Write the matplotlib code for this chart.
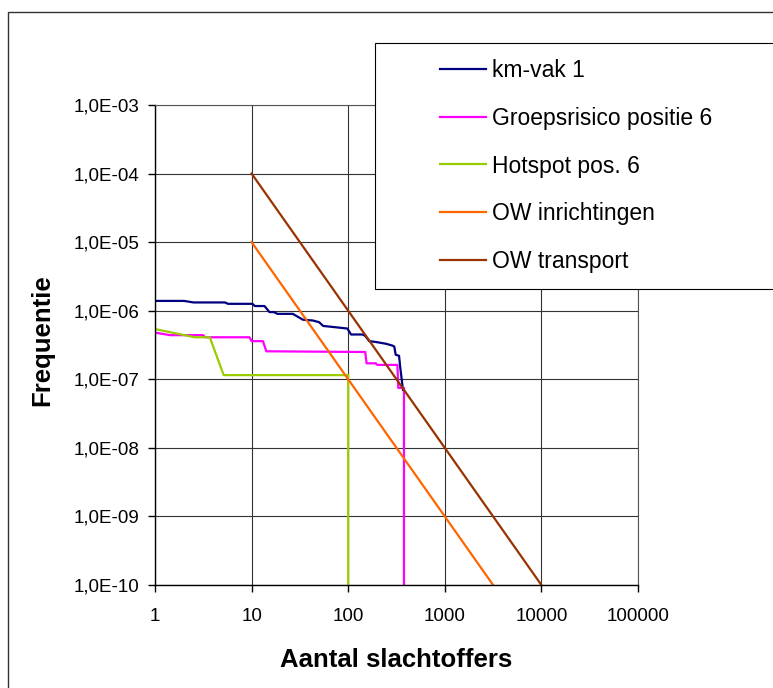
import matplotlib
matplotlib.use('Agg')
import matplotlib.pyplot as plt
from matplotlib.patches import Rectangle
from matplotlib.ticker import FuncFormatter, FixedLocator, NullLocator

plt.rcParams['font.family'] = ['Liberation Sans', 'DejaVu Sans']

# km-vak 1 (stepped curve)
km_x = [1, 2.0, 2.5, 5.3, 5.7, 10.2, 10.8, 13.6, 15.3, 17, 18.5, 26.7, 33.9, 43, 50, 55,
        98, 107, 141, 150, 165, 193, 245, 287, 300, 310, 336, 345, 369]
km_y = [1.39e-6, 1.39e-6, 1.32e-6, 1.32e-6, 1.26e-6, 1.26e-6, 1.17e-6, 1.17e-6, 0.955e-6,
        0.955e-6, 0.9e-6, 0.9e-6, 0.74e-6, 0.72e-6, 0.68e-6, 0.60e-6, 0.55e-6, 0.45e-6,
        0.45e-6, 0.43e-6, 0.36e-6, 0.35e-6, 0.33e-6, 0.31e-6, 0.30e-6, 0.228e-6, 0.22e-6,
        0.153e-6, 0.07e-6]

# Groepsrisico positie 6
gr_x = [1, 1.43, 3.15, 3.3, 9.5, 10.0, 13.1, 14.2, 150, 155, 193, 200, 323, 330, 378, 378]
gr_y = [0.48e-6, 0.44e-6, 0.44e-6, 0.41e-6, 0.41e-6, 0.36e-6, 0.36e-6, 0.256e-6, 0.25e-6,
        0.171e-6, 0.171e-6, 0.162e-6, 0.162e-6, 0.075e-6, 0.075e-6, 1e-10]

# Hotspot pos. 6
hs_x = [1, 2.58, 3.69, 5.14, 100, 100]
hs_y = [0.54e-6, 0.41e-6, 0.41e-6, 1.15e-7, 1.15e-7, 1e-10]

# OW inrichtingen
owi_x = [10, 100, 1000, 3162]
owi_y = [1e-5, 1e-7, 1e-9, 1e-10]

# OW transport
owt_x = [10, 100, 1000, 10000]
owt_y = [1e-4, 1e-6, 1e-8, 1e-10]

x_ticks = [1, 10, 100, 1000, 10000, 100000]
y_ticks = [1e-10, 1e-9, 1e-8, 1e-7, 1e-6, 1e-5, 1e-4, 1e-3]

W, H = 773, 688
fig = plt.figure(figsize=(W / 100, H / 100), dpi=100)
ax = fig.add_axes([155 / W, 1 - 585 / H, (638 - 155) / W, (585 - 105) / H])

lw = 1.6
ax.plot(km_x, km_y, color='#000080', lw=lw, label='km-vak 1')
ax.plot(gr_x, gr_y, color='#FF00FF', lw=lw, label='Groepsrisico positie 6')
ax.plot(hs_x, hs_y, color='#99CC00', lw=lw, label='Hotspot pos. 6')
ax.plot(owi_x, owi_y, color='#FF6600', lw=lw, label='OW inrichtingen')
ax.plot(owt_x, owt_y, color='#993300', lw=lw, label='OW transport')

ax.set_xscale('log')
ax.set_yscale('log')
ax.set_xlim(1, 100000)
ax.set_ylim(1e-10, 1e-3)

ax.xaxis.set_major_locator(FixedLocator(x_ticks))
ax.yaxis.set_major_locator(FixedLocator(y_ticks))
ax.xaxis.set_minor_locator(NullLocator())
ax.yaxis.set_minor_locator(NullLocator())
ax.xaxis.set_major_formatter(FuncFormatter(lambda v, p: f'{v:.0f}'))
ax.yaxis.set_major_formatter(FuncFormatter(lambda v, p: f'{v:.1E}'.replace('.', ',')))

ax.grid(True, which='major', color='#333333', lw=0.8)
ax.set_axisbelow(True)
for s in ['top', 'right']:
    ax.spines[s].set_color('#555555')
    ax.spines[s].set_linewidth(0.8)
for s in ['left', 'bottom']:
    ax.spines[s].set_color('black')
    ax.spines[s].set_linewidth(1.0)

ax.tick_params(axis='both', which='major', direction='out', length=5, width=1,
               labelsize=13.5, colors='black')
ax.tick_params(axis='y', pad=6.5)
ax.tick_params(axis='x', pad=11.5)

ax.set_xlabel('Aantal slachtoffers', fontsize=18.5, fontweight='bold')
ax.set_ylabel('Frequentie', fontsize=18.5, fontweight='bold')
ax.xaxis.label.set_va('center')
ax.yaxis.label.set_va('center')
ax.xaxis.set_label_coords(0.5, (585 - 660) / 480)
ax.yaxis.set_label_coords((42 - 155) / 483, 0.51)

# outer chart border and legend box
fig.patches.append(Rectangle((8 / W, -0.1), 1.2, 1 - 12 / H + 0.1, transform=fig.transFigure,
                             fill=False, edgecolor='#333333', lw=1.0))
fig.patches.append(Rectangle((375 / W, 1 - 289 / H), 1.0, (289 - 43) / H,
                             transform=fig.transFigure, facecolor='white',
                             edgecolor='black', lw=0.8, zorder=5))

handles, labels = ax.get_legend_handles_labels()
leg = fig.legend(handles, labels, loc='upper left', bbox_to_anchor=(440 / W, 1 - 59 / H),
                 frameon=False, fontsize=16.5, handlelength=2.0, handletextpad=0.25,
                 labelspacing=1.08, borderpad=0, borderaxespad=0)
leg.set_zorder(6)

fig.savefig('out.png', dpi=100)
